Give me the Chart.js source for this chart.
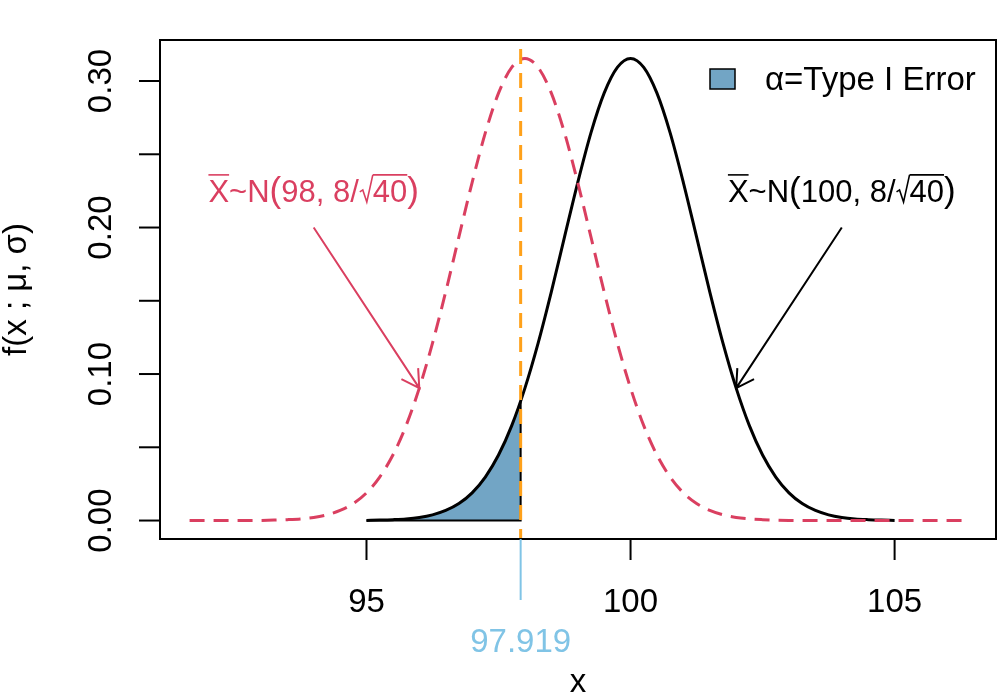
<!DOCTYPE html>
<html>
<head>
<meta charset="utf-8">
<script src="https://cdn.jsdelivr.net/npm/chart.js@4"></script>
<style>
  html, body { margin: 0; padding: 0; background: #fff; }
  #wrap { width: 1000px; height: 700px; }
</style>
</head>
<body>
<div id="wrap"><canvas id="chart" width="1000" height="700"></canvas></div>
<script>
// H0 sampling distribution, mean 100 (solid black)
const nullX = [95.00, 95.25, 95.50, 95.75, 96.00, 96.25, 96.50, 96.75, 97.00, 97.25, 97.50, 97.75,
  98.00, 98.25, 98.50, 98.75, 99.00, 99.25, 99.50, 99.75, 100.00, 100.25, 100.50, 100.75,
  101.00, 101.25, 101.50, 101.75, 102.00, 102.25, 102.50, 102.75, 103.00, 103.25, 103.50,
  103.75, 104.00, 104.25, 104.50, 104.75, 105.00];
const nullY = [0.0001, 0.0003, 0.0006, 0.0011, 0.0021, 0.0039, 0.0069, 0.0116, 0.0189, 0.0297,
  0.0447, 0.0648, 0.0904, 0.1211, 0.1561, 0.1936, 0.2307, 0.2646, 0.2917, 0.3093, 0.3154,
  0.3093, 0.2917, 0.2646, 0.2307, 0.1936, 0.1561, 0.1211, 0.0904, 0.0648, 0.0447, 0.0297,
  0.0189, 0.0116, 0.0069, 0.0039, 0.0021, 0.0011, 0.0006, 0.0003, 0.0001];

// H1 sampling distribution, mean 98 (dashed red)
const altX = [91.65, 92.00, 92.50, 93.00, 93.25, 93.50, 93.75, 94.00, 94.25, 94.50, 94.75,
  95.00, 95.25, 95.50, 95.75, 96.00, 96.25, 96.50, 96.75, 97.00, 97.25, 97.50, 97.75, 98.00,
  98.25, 98.50, 98.75, 99.00, 99.25, 99.50, 99.75, 100.00, 100.25, 100.50, 100.75, 101.00,
  101.25, 101.50, 101.75, 102.00, 102.25, 102.50, 102.75, 103.00, 103.50, 104.00, 104.50,
  105.00, 105.50, 106.00, 106.35];
const altY = [0, 0, 0, 0.0001, 0.0003, 0.0006, 0.0011, 0.0021, 0.0039, 0.0069, 0.0116,
  0.0189, 0.0297, 0.0447, 0.0648, 0.0904, 0.1211, 0.1561, 0.1936, 0.2307, 0.2646, 0.2917,
  0.3093, 0.3154, 0.3093, 0.2917, 0.2646, 0.2307, 0.1936, 0.1561, 0.1211, 0.0904, 0.0648,
  0.0447, 0.0297, 0.0189, 0.0116, 0.0069, 0.0039, 0.0021, 0.0011, 0.0006, 0.0003, 0.0001,
  0, 0, 0, 0, 0, 0, 0];

// rejection region (alpha) under H0, left of the critical value
const cutoff = 97.919;
const alphaX = [95.00, 95.25, 95.50, 95.75, 96.00, 96.25, 96.50, 96.75, 97.00, 97.25, 97.50, 97.75, 97.919];
const alphaY = [0.0001, 0.0003, 0.0006, 0.0011, 0.0021, 0.0039, 0.0069, 0.0116, 0.0189, 0.0297, 0.0447, 0.0648, 0.0815];

const xTicks = [95, 100, 105];
const yTicks = [0, 0.05, 0.10, 0.15, 0.20, 0.25, 0.30];
const yLabels = ['0.00', '', '0.10', '', '0.20', '', '0.30'];
const xRange = [91.09, 106.92];
const yRange = [-0.0126, 0.3280];

// annotation anchors in data units: [textX, textY, arrowFromX, arrowFromY, arrowToX, arrowToY]
const altNote = [94, 0.2175, 94, 0.20, 96, 0.0904];
const nullNote = [104, 0.2175, 104, 0.20, 102, 0.0904];

const RED = '#DA3F60';
const FILL = '#72A5C5';
const ORANGE = '#FFA11A';
const SKY = '#80C4E6';
const FONT = '"Liberation Sans", Arial, Helvetica, sans-serif';

const pts = (xs, ys) => xs.map((x, i) => ({ x: x, y: ys[i] }));

function arrow(ctx, x0, y0, x1, y1, color) {
  const ang = Math.atan2(y1 - y0, x1 - x0);
  const len = 20, spread = Math.PI / 6;
  ctx.save();
  ctx.strokeStyle = color;
  ctx.lineWidth = 2;
  ctx.beginPath();
  ctx.moveTo(x0, y0); ctx.lineTo(x1, y1);
  ctx.moveTo(x1 - len * Math.cos(ang - spread), y1 - len * Math.sin(ang - spread));
  ctx.lineTo(x1, y1);
  ctx.lineTo(x1 - len * Math.cos(ang + spread), y1 - len * Math.sin(ang + spread));
  ctx.stroke();
  ctx.restore();
}

// X-bar ~ N(mean, 8/sqrt(40)) written out piece by piece
function normLabel(ctx, cx, baseY, mean, color) {
  const f = '31px ' + FONT;
  const fBig = '35px ' + FONT;
  const parts = [
    { t: 'X', font: f, bar: true },
    { t: '~N', font: f },
    { t: '(', font: fBig },
    { t: mean + ', 8/', font: f },
    { t: '', font: f, root: true, w: 14 },
    { t: '40', font: f, bar: true },
    { t: ')', font: fBig }
  ];
  ctx.save();
  ctx.fillStyle = color;
  ctx.strokeStyle = color;
  ctx.textBaseline = 'alphabetic';
  let total = 0;
  parts.forEach(p => {
    ctx.font = p.font;
    if (!p.root) p.w = ctx.measureText(p.t).width;
    total += p.w;
  });
  let x = cx - total / 2;
  const barY = baseY - 27;
  parts.forEach(p => {
    ctx.font = p.font;
    if (p.root) {
      ctx.lineWidth = 1.6;
      ctx.beginPath();
      ctx.moveTo(x + 1, baseY - 10);
      ctx.lineTo(x + 4, baseY - 12);
      ctx.lineTo(x + 8, baseY);
      ctx.lineTo(x + p.w, barY);
      ctx.stroke();
    } else {
      ctx.fillText(p.t, x, baseY);
    }
    if (p.bar) {
      ctx.lineWidth = 1.6;
      ctx.beginPath();
      ctx.moveTo(x, barY); ctx.lineTo(x + p.w, barY);
      ctx.stroke();
    }
    x += p.w;
  });
  ctx.restore();
}

const baseRPlot = {
  id: 'baseRPlot',
  afterDatasetsDraw(chart) {
    const ctx = chart.ctx;
    const a = chart.chartArea;
    const xs = chart.scales.x, ys = chart.scales.y;
    ctx.save();

    // plot box
    ctx.strokeStyle = '#000';
    ctx.lineWidth = 2;
    ctx.strokeRect(a.left, a.top, a.right - a.left, a.bottom - a.top);

    // x axis ticks + labels
    ctx.font = '33px ' + FONT;
    ctx.fillStyle = '#000';
    ctx.textAlign = 'center';
    ctx.textBaseline = 'alphabetic';
    xTicks.forEach(v => {
      const px = xs.getPixelForValue(v);
      ctx.beginPath(); ctx.moveTo(px, a.bottom); ctx.lineTo(px, a.bottom + 21); ctx.stroke();
      ctx.fillText(String(v), px, a.bottom + 73);
    });

    // critical value tick
    const cx = xs.getPixelForValue(cutoff);
    ctx.strokeStyle = SKY;
    ctx.beginPath(); ctx.moveTo(cx, a.bottom); ctx.lineTo(cx, a.bottom + 61); ctx.stroke();
    ctx.fillStyle = SKY;
    ctx.fillText(String(cutoff), cx, a.bottom + 113);

    // x title
    ctx.fillStyle = '#000';
    ctx.fillText('x', (a.left + a.right) / 2, a.bottom + 153);

    // y axis ticks + rotated labels
    ctx.strokeStyle = '#000';
    yTicks.forEach((v, i) => {
      const py = ys.getPixelForValue(v);
      ctx.beginPath(); ctx.moveTo(a.left - 21, py); ctx.lineTo(a.left, py); ctx.stroke();
      if (yLabels[i]) {
        ctx.save();
        ctx.translate(a.left - 49, py);
        ctx.rotate(-Math.PI / 2);
        ctx.fillText(yLabels[i], 0, 0);
        ctx.restore();
      }
    });

    // y title
    ctx.save();
    ctx.translate(26, (a.top + a.bottom) / 2);
    ctx.rotate(-Math.PI / 2);
    ctx.fillText('f(x ; μ, σ)', 0, 0);
    ctx.restore();

    // legend
    ctx.fillStyle = FILL;
    ctx.fillRect(710, 69, 25, 20);
    ctx.lineWidth = 1.5;
    ctx.strokeRect(710, 69, 25, 20);
    ctx.fillStyle = '#000';
    ctx.textAlign = 'left';
    ctx.font = '33px ' + FONT;
    ctx.fillText('α=Type I Error', 765, 90);

    // annotations
    [[altNote, '98', RED], [nullNote, '100', '#000']].forEach(([n, mean, col]) => {
      normLabel(ctx, xs.getPixelForValue(n[0]), ys.getPixelForValue(n[1]), mean, col);
      arrow(ctx, xs.getPixelForValue(n[2]), ys.getPixelForValue(n[3]),
        xs.getPixelForValue(n[4]), ys.getPixelForValue(n[5]), col);
    });

    ctx.restore();
  }
};

new Chart(document.getElementById('chart').getContext('2d'), {
  type: 'line',
  data: {
    datasets: [
      {
        label: 'alpha',
        data: pts(alphaX, alphaY),
        fill: 'origin',
        backgroundColor: FILL,
        borderWidth: 0,
        cubicInterpolationMode: 'monotone',
        order: 5
      },
      {
        label: 'H0',
        data: pts(nullX, nullY),
        borderColor: '#000',
        borderWidth: 3,
        fill: false,
        cubicInterpolationMode: 'monotone',
        order: 4
      },
      {
        label: 'alpha edge',
        data: [
          { x: alphaX[0], y: 0 },
          { x: cutoff, y: 0 },
          { x: cutoff, y: alphaY[alphaY.length - 1] }
        ],
        borderColor: '#000',
        borderWidth: 2,
        fill: false,
        order: 3
      },
      {
        label: 'H1',
        data: pts(altX, altY),
        borderColor: RED,
        borderWidth: 3,
        borderDash: [15, 9],
        fill: false,
        cubicInterpolationMode: 'monotone',
        order: 2
      },
      {
        label: 'critical value',
        data: [{ x: cutoff, y: yRange[1] }, { x: cutoff, y: yRange[0] }],
        borderColor: ORANGE,
        borderWidth: 3,
        borderDash: [15, 9],
        borderDashOffset: 15,
        fill: false,
        order: 1
      }
    ]
  },
  options: {
    responsive: false,
    animation: false,
    layout: { padding: { left: 160, right: 4, top: 40, bottom: 161 } },
    elements: { point: { radius: 0 }, line: { tension: 0 } },
    scales: {
      x: { type: 'linear', min: xRange[0], max: xRange[1], display: false },
      y: { type: 'linear', min: yRange[0], max: yRange[1], display: false }
    },
    plugins: { legend: { display: false }, tooltip: { enabled: false } }
  },
  plugins: [baseRPlot]
});
</script>
</body>
</html>
